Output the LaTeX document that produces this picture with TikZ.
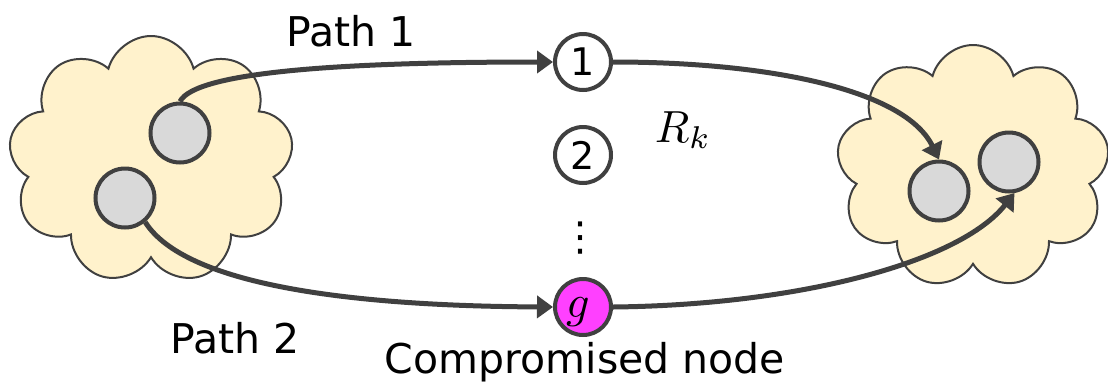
\documentclass[tikz,border=0pt]{standalone}
\usepackage{graphicx}
\usepackage{fontspec}
\setmainfont{DejaVu Sans}
\usetikzlibrary{shapes.symbols,arrows.meta}
\definecolor{ln}{HTML}{404040}
\definecolor{cloudfill}{HTML}{FFF2CC}
\definecolor{grayfill}{HTML}{D9D9D9}
\definecolor{mag}{HTML}{FF40FF}
\begin{document}
\begin{tikzpicture}[x=1pt,y=-1pt,
  cloudbox/.style={cloud, cloud puffs=9, cloud puff arc=150, cloud ignores aspect, draw=ln, fill=cloudfill, line width=2pt, inner sep=0pt},
  host/.style={circle, draw=ln, fill=grayfill, line width=4pt, minimum size=59pt, inner sep=0pt},
  relay/.style={circle, draw=ln, fill=white, line width=4pt, minimum size=56pt, inner sep=0pt, font=\fontsize{38}{40}\selectfont},
  conn/.style={draw=ln, line width=5pt, -{Triangle[length=16pt,width=22pt]}},
  lbl/.style={font=\fontsize{41}{48}\selectfont, inner sep=0pt}]
\useasboundingbox (0,0) rectangle (1108,384);
% clouds
\node[cloudbox, minimum width=285pt, minimum height=248pt] (cl) at (151,160) {};
\node[cloudbox, minimum width=273pt, minimum height=244pt, shape border rotate=10] (cr) at (973,167) {};
% hosts
\node[host] (a) at (180,133) {};
\node[host] (b) at (125,198) {};
\node[host] (c) at (939,191) {};
\node[host] (d) at (1009,162) {};
% relays
\node[relay] (n1) at (583,62) {1};
\node[relay] (n2) at (583,155) {2};
\node[relay, fill=mag] (ng) at (583,307) {};
\node[inner sep=0pt] (gl) at (578,312) {\scalebox{4.6}{$g$}};
\node[inner sep=0pt, font=\fontsize{40}{44}\selectfont] (dots) at (580,238) {⋮};
% connectors
\draw[conn] (a.north) .. controls (195,72) and (340,62) .. (n1.west);
\draw[conn] (n1.east) .. controls (770,62) and (905,90) .. (c.north);
\draw[conn] (b.-50) .. controls (185,285) and (350,306) .. (ng.west);
\draw[conn] (ng.east) .. controls (800,305) and (960,262) .. (d.-80);
% labels
\node[lbl] (p1) at (351,31) {Path 1};
\node[lbl] (p2) at (235,338) {Path 2};
\node[lbl] (cn) at (585,362) {Compromised node};
\node[inner sep=0pt] (rk) at (683,130) {\scalebox{4.5}{$R_k$}};
\end{tikzpicture}
\end{document}
